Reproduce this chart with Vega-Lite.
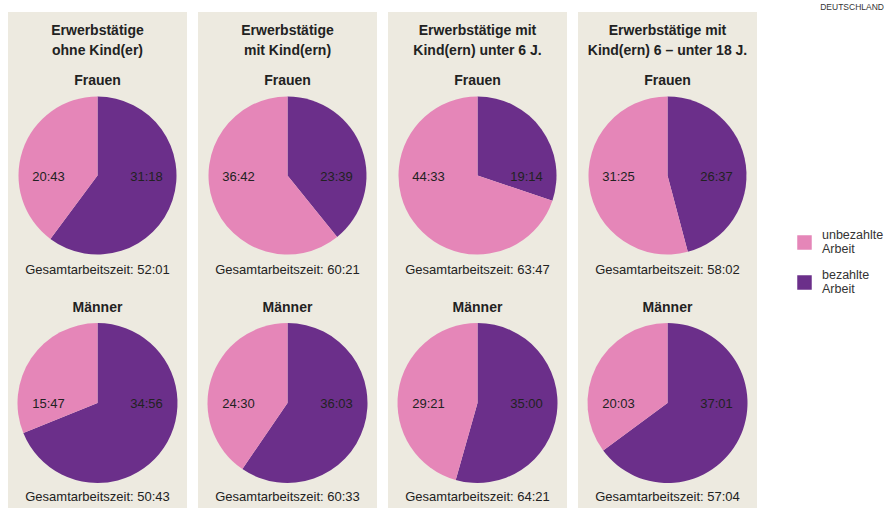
{
  "$schema": "https://vega.github.io/schema/vega-lite/v6.json",
  "padding": {"left": 8, "top": 2, "right": 0, "bottom": 0},
  "autosize": {"type": "pad"},
  "background": "white",
  "title": {"text": "DEUTSCHLAND", "anchor": "end", "frame": "bounds", "fontSize": 8.5, "fontWeight": "normal", "color": "#333", "offset": 3, "dy": 2},
  "data": {"values": [
    {"panel": "Erwerbstätige\nohne Kind(er)", "gender": "Frauen", "category": "bezahlte Arbeit", "minutes": 1878, "label": "31:18", "gesamt": "Gesamtarbeitszeit: 52:01"},
    {"panel": "Erwerbstätige\nohne Kind(er)", "gender": "Frauen", "category": "unbezahlte Arbeit", "minutes": 1243, "label": "20:43", "gesamt": "Gesamtarbeitszeit: 52:01"},
    {"panel": "Erwerbstätige\nohne Kind(er)", "gender": "Männer", "category": "bezahlte Arbeit", "minutes": 2096, "label": "34:56", "gesamt": "Gesamtarbeitszeit: 50:43"},
    {"panel": "Erwerbstätige\nohne Kind(er)", "gender": "Männer", "category": "unbezahlte Arbeit", "minutes": 947, "label": "15:47", "gesamt": "Gesamtarbeitszeit: 50:43"},
    {"panel": "Erwerbstätige\nmit Kind(ern)", "gender": "Frauen", "category": "bezahlte Arbeit", "minutes": 1419, "label": "23:39", "gesamt": "Gesamtarbeitszeit: 60:21"},
    {"panel": "Erwerbstätige\nmit Kind(ern)", "gender": "Frauen", "category": "unbezahlte Arbeit", "minutes": 2202, "label": "36:42", "gesamt": "Gesamtarbeitszeit: 60:21"},
    {"panel": "Erwerbstätige\nmit Kind(ern)", "gender": "Männer", "category": "bezahlte Arbeit", "minutes": 2163, "label": "36:03", "gesamt": "Gesamtarbeitszeit: 60:33"},
    {"panel": "Erwerbstätige\nmit Kind(ern)", "gender": "Männer", "category": "unbezahlte Arbeit", "minutes": 1470, "label": "24:30", "gesamt": "Gesamtarbeitszeit: 60:33"},
    {"panel": "Erwerbstätige mit\nKind(ern) unter 6 J.", "gender": "Frauen", "category": "bezahlte Arbeit", "minutes": 1154, "label": "19:14", "gesamt": "Gesamtarbeitszeit: 63:47"},
    {"panel": "Erwerbstätige mit\nKind(ern) unter 6 J.", "gender": "Frauen", "category": "unbezahlte Arbeit", "minutes": 2673, "label": "44:33", "gesamt": "Gesamtarbeitszeit: 63:47"},
    {"panel": "Erwerbstätige mit\nKind(ern) unter 6 J.", "gender": "Männer", "category": "bezahlte Arbeit", "minutes": 2100, "label": "35:00", "gesamt": "Gesamtarbeitszeit: 64:21"},
    {"panel": "Erwerbstätige mit\nKind(ern) unter 6 J.", "gender": "Männer", "category": "unbezahlte Arbeit", "minutes": 1761, "label": "29:21", "gesamt": "Gesamtarbeitszeit: 64:21"},
    {"panel": "Erwerbstätige mit\nKind(ern) 6 – unter 18 J.", "gender": "Frauen", "category": "bezahlte Arbeit", "minutes": 1597, "label": "26:37", "gesamt": "Gesamtarbeitszeit: 58:02"},
    {"panel": "Erwerbstätige mit\nKind(ern) 6 – unter 18 J.", "gender": "Frauen", "category": "unbezahlte Arbeit", "minutes": 1885, "label": "31:25", "gesamt": "Gesamtarbeitszeit: 58:02"},
    {"panel": "Erwerbstätige mit\nKind(ern) 6 – unter 18 J.", "gender": "Männer", "category": "bezahlte Arbeit", "minutes": 2221, "label": "37:01", "gesamt": "Gesamtarbeitszeit: 57:04"},
    {"panel": "Erwerbstätige mit\nKind(ern) 6 – unter 18 J.", "gender": "Männer", "category": "unbezahlte Arbeit", "minutes": 1203, "label": "20:03", "gesamt": "Gesamtarbeitszeit: 57:04"}
  ]},
  "facet": {"column": {"field": "panel", "type": "nominal", "header": null, "sort": ["Erwerbstätige\nohne Kind(er)", "Erwerbstätige\nmit Kind(ern)", "Erwerbstätige mit\nKind(ern) unter 6 J.", "Erwerbstätige mit\nKind(ern) 6 – unter 18 J."]}},
  "spacing": 11,
  "spec": {
    "width": 179,
    "height": 496,
    "encoding": {
      "y": {"field": "gender", "type": "nominal", "axis": null, "scale": {"type": "point", "domain": ["Frauen", "Männer"], "range": [163.5, 391], "padding": 0}}
    },
    "layer": [
      {
        "transform": [{"filter": "datum.gender === 'Frauen'"}],
        "mark": {"type": "arc", "outerRadius": 79},
        "encoding": {
          "theta": {"field": "minutes", "type": "quantitative", "stack": "normalize"},
          "order": {"field": "category", "sort": "ascending"},
          "color": {"field": "category", "type": "nominal",
            "scale": {"domain": ["unbezahlte Arbeit", "bezahlte Arbeit"], "range": ["#e586b8", "#6b2f8a"]},
            "legend": {"orient": "none", "legendX": 789, "legendY": 223, "title": null, "symbolType": "square", "symbolSize": 210, "symbolStrokeWidth": 0, "labelFontSize": 12.5, "labelColor": "#333", "labelExpr": "split(datum.label, ' ')", "rowPadding": 12, "labelOffset": 10,
              "labelBaseline": "middle",
              "encode": {"labels": {"update": {"dy": {"value": -8}}}}}
          }
        }
      },
      {
        "transform": [{"filter": "datum.gender === 'Männer'"}],
        "mark": {"type": "arc", "outerRadius": 80},
        "encoding": {
          "theta": {"field": "minutes", "type": "quantitative", "stack": "normalize"},
          "order": {"field": "category", "sort": "ascending"},
          "color": {"field": "category", "type": "nominal"}
        }
      },
      {
        "transform": [{"filter": "datum.category === 'unbezahlte Arbeit'"}],
        "mark": {"type": "text", "dx": -49, "dy": 1, "fontSize": 13, "color": "#222", "baseline": "middle"},
        "encoding": {"text": {"field": "label"}}
      },
      {
        "transform": [{"filter": "datum.category === 'bezahlte Arbeit'"}],
        "mark": {"type": "text", "dx": 49, "dy": 1, "fontSize": 13, "color": "#222", "baseline": "middle"},
        "encoding": {"text": {"field": "label"}}
      },
      {
        "transform": [{"filter": "datum.category === 'bezahlte Arbeit'"}],
        "mark": {"type": "text", "dy": -95, "fontSize": 14, "fontWeight": "bold", "color": "#222", "baseline": "middle"},
        "encoding": {"text": {"field": "gender"}}
      },
      {
        "transform": [{"filter": "datum.category === 'bezahlte Arbeit'"}],
        "mark": {"type": "text", "dy": 94, "fontSize": 13, "color": "#222", "baseline": "middle"},
        "encoding": {"text": {"field": "gesamt"}}
      },
      {
        "transform": [{"filter": "datum.category === 'bezahlte Arbeit' && datum.gender === 'Frauen'"}],
        "mark": {"type": "text", "dy": -144.5, "fontSize": 14, "fontWeight": "bold", "color": "#222", "baseline": "middle", "lineBreak": "\n", "lineHeight": 20},
        "encoding": {"text": {"field": "panel"}}
      }
    ]
  },
  "config": {
    "font": "Liberation Sans",
    "view": {"fill": "#edeae0", "stroke": null}
  }
}
